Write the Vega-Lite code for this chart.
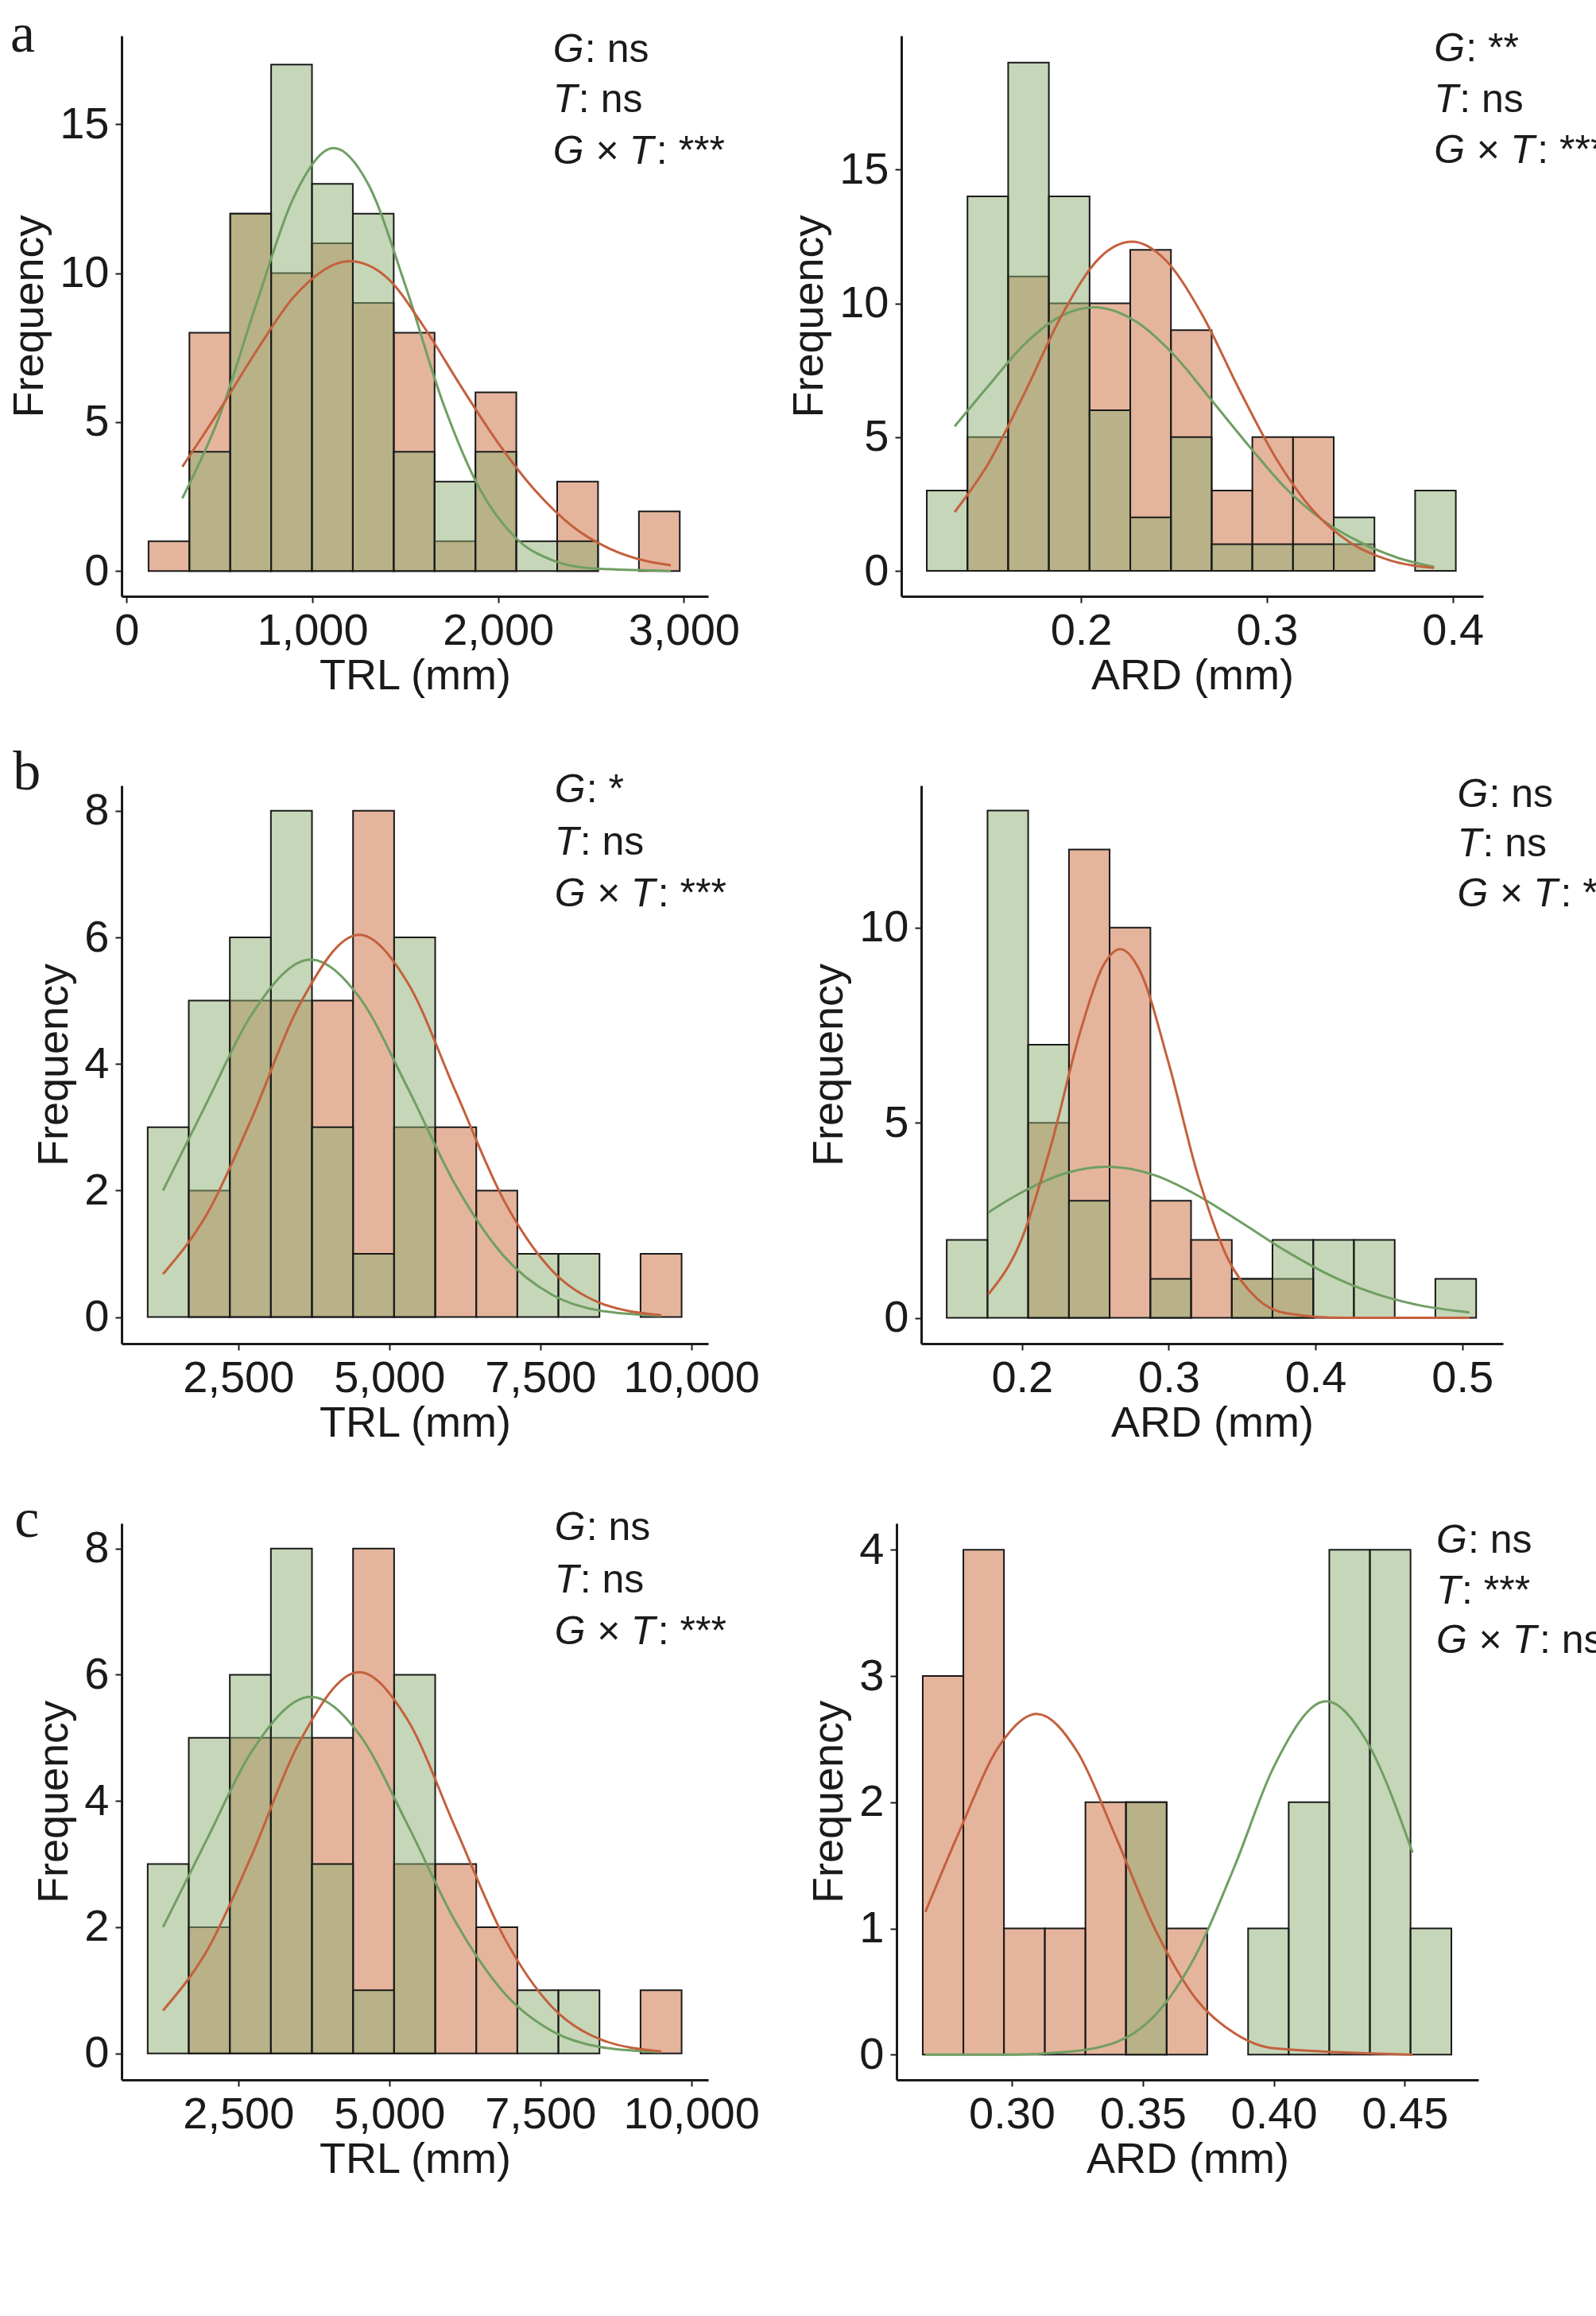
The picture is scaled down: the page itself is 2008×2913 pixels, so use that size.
{
  "$schema": "https://vega.github.io/schema/vega-lite/v6.json",
  "background": "white",
  "padding": {"left": 10, "top": 8, "right": 5, "bottom": 5},
  "config": {
    "view": {"stroke": null},
    "axis": {"grid": false, "domainColor": "#1a1a1a", "domainWidth": 3, "tickColor": "#1a1a1a", "tickWidth": 2, "tickSize": 8,
      "labelFont": "Liberation Sans", "labelFontSize": 56, "labelColor": "#1a1a1a", "labelPadding": 8,
      "titleFont": "Liberation Sans", "titleFontSize": 54, "titleFontWeight": "normal", "titleColor": "#1a1a1a"},
    "axisX": {"titlePadding": 2},
    "axisY": {"titlePadding": 10},
    "text": {"font": "Liberation Sans", "fontSize": 50, "color": "#1a1a1a", "align": "left", "baseline": "middle"},
    "line": {"interpolate": "monotone"},
    "concat": {"spacing": 60}
  },
  "datasets": {
    "bars": [
      {"p":"al","g":"r","x":118,"x1":338,"y":1},{"p":"al","g":"r","x":338,"x1":558,"y":8},{"p":"al","g":"r","x":558,"x1":778,"y":12},
      {"p":"al","g":"r","x":778,"x1":998,"y":10},{"p":"al","g":"r","x":998,"x1":1218,"y":11},{"p":"al","g":"r","x":1218,"x1":1438,"y":9},
      {"p":"al","g":"r","x":1438,"x1":1658,"y":8},{"p":"al","g":"r","x":1658,"x1":1878,"y":1},{"p":"al","g":"r","x":1878,"x1":2098,"y":6},
      {"p":"al","g":"r","x":2318,"x1":2538,"y":3},{"p":"al","g":"r","x":2758,"x1":2978,"y":2},
      {"p":"al","g":"g","x":338,"x1":558,"y":4},{"p":"al","g":"g","x":558,"x1":778,"y":12},{"p":"al","g":"g","x":778,"x1":998,"y":17},
      {"p":"al","g":"g","x":998,"x1":1218,"y":13},{"p":"al","g":"g","x":1218,"x1":1438,"y":12},{"p":"al","g":"g","x":1438,"x1":1658,"y":4},
      {"p":"al","g":"g","x":1658,"x1":1878,"y":3},{"p":"al","g":"g","x":1878,"x1":2098,"y":4},{"p":"al","g":"g","x":2098,"x1":2318,"y":1},
      {"p":"al","g":"g","x":2318,"x1":2538,"y":1},

      {"p":"ar","g":"r","x":0.1389,"x1":0.1608,"y":5},{"p":"ar","g":"r","x":0.1608,"x1":0.1827,"y":11},{"p":"ar","g":"r","x":0.1827,"x1":0.2046,"y":10},
      {"p":"ar","g":"r","x":0.2046,"x1":0.2265,"y":10},{"p":"ar","g":"r","x":0.2265,"x1":0.2484,"y":12},{"p":"ar","g":"r","x":0.2484,"x1":0.2703,"y":9},
      {"p":"ar","g":"r","x":0.2703,"x1":0.2922,"y":3},{"p":"ar","g":"r","x":0.2922,"x1":0.3141,"y":5},{"p":"ar","g":"r","x":0.3141,"x1":0.336,"y":5},
      {"p":"ar","g":"r","x":0.336,"x1":0.3579,"y":1},
      {"p":"ar","g":"g","x":0.117,"x1":0.1389,"y":3},{"p":"ar","g":"g","x":0.1389,"x1":0.1608,"y":14},{"p":"ar","g":"g","x":0.1608,"x1":0.1827,"y":19},
      {"p":"ar","g":"g","x":0.1827,"x1":0.2046,"y":14},{"p":"ar","g":"g","x":0.2046,"x1":0.2265,"y":6},{"p":"ar","g":"g","x":0.2265,"x1":0.2484,"y":2},
      {"p":"ar","g":"g","x":0.2484,"x1":0.2703,"y":5},{"p":"ar","g":"g","x":0.2703,"x1":0.2922,"y":1},{"p":"ar","g":"g","x":0.2922,"x1":0.3141,"y":1},
      {"p":"ar","g":"g","x":0.3141,"x1":0.336,"y":1},{"p":"ar","g":"g","x":0.336,"x1":0.3579,"y":2},{"p":"ar","g":"g","x":0.3798,"x1":0.4017,"y":3},

      {"p":"bl","g":"r","x":1680,"x1":2360,"y":2},{"p":"bl","g":"r","x":2360,"x1":3040,"y":5},{"p":"bl","g":"r","x":3040,"x1":3720,"y":5},
      {"p":"bl","g":"r","x":3720,"x1":4400,"y":5},{"p":"bl","g":"r","x":4400,"x1":5080,"y":8},{"p":"bl","g":"r","x":5080,"x1":5760,"y":3},
      {"p":"bl","g":"r","x":5760,"x1":6440,"y":3},{"p":"bl","g":"r","x":6440,"x1":7120,"y":2},{"p":"bl","g":"r","x":9160,"x1":9840,"y":1},
      {"p":"bl","g":"g","x":1000,"x1":1680,"y":3},{"p":"bl","g":"g","x":1680,"x1":2360,"y":5},{"p":"bl","g":"g","x":2360,"x1":3040,"y":6},
      {"p":"bl","g":"g","x":3040,"x1":3720,"y":8},{"p":"bl","g":"g","x":3720,"x1":4400,"y":3},{"p":"bl","g":"g","x":4400,"x1":5080,"y":1},
      {"p":"bl","g":"g","x":5080,"x1":5760,"y":6},{"p":"bl","g":"g","x":7120,"x1":7800,"y":1},{"p":"bl","g":"g","x":7800,"x1":8480,"y":1},

      {"p":"br","g":"r","x":0.2042,"x1":0.232,"y":5},{"p":"br","g":"r","x":0.232,"x1":0.2597,"y":12},{"p":"br","g":"r","x":0.2597,"x1":0.2875,"y":10},
      {"p":"br","g":"r","x":0.2875,"x1":0.3152,"y":3},{"p":"br","g":"r","x":0.3152,"x1":0.343,"y":2},{"p":"br","g":"r","x":0.343,"x1":0.3707,"y":1},
      {"p":"br","g":"r","x":0.3707,"x1":0.3985,"y":1},
      {"p":"br","g":"g","x":0.1487,"x1":0.1765,"y":2},{"p":"br","g":"g","x":0.1765,"x1":0.2042,"y":13},{"p":"br","g":"g","x":0.2042,"x1":0.232,"y":7},
      {"p":"br","g":"g","x":0.232,"x1":0.2597,"y":3},{"p":"br","g":"g","x":0.2875,"x1":0.3152,"y":1},{"p":"br","g":"g","x":0.343,"x1":0.3707,"y":1},
      {"p":"br","g":"g","x":0.3707,"x1":0.3985,"y":2},{"p":"br","g":"g","x":0.3985,"x1":0.4262,"y":2},{"p":"br","g":"g","x":0.4262,"x1":0.454,"y":2},
      {"p":"br","g":"g","x":0.4817,"x1":0.5095,"y":1},

      {"p":"cr","g":"r","x":0.266,"x1":0.2815,"y":3},{"p":"cr","g":"r","x":0.2815,"x1":0.297,"y":4},{"p":"cr","g":"r","x":0.297,"x1":0.3126,"y":1},
      {"p":"cr","g":"r","x":0.3126,"x1":0.3281,"y":1},{"p":"cr","g":"r","x":0.3281,"x1":0.3436,"y":2},{"p":"cr","g":"r","x":0.3436,"x1":0.3591,"y":2},
      {"p":"cr","g":"r","x":0.3591,"x1":0.3746,"y":1},
      {"p":"cr","g":"g","x":0.3436,"x1":0.3591,"y":2},{"p":"cr","g":"g","x":0.3902,"x1":0.4057,"y":1},{"p":"cr","g":"g","x":0.4057,"x1":0.4212,"y":2},
      {"p":"cr","g":"g","x":0.4212,"x1":0.4367,"y":4},{"p":"cr","g":"g","x":0.4367,"x1":0.4522,"y":4},{"p":"cr","g":"g","x":0.4522,"x1":0.4678,"y":1}
    ],
    "curves": [
      {"p":"al","g":"g","x":300,"y":2.44},{"p":"al","g":"g","x":500,"y":5.2},{"p":"al","g":"g","x":700,"y":9.0},{"p":"al","g":"g","x":900,"y":12.55},
      {"p":"al","g":"g","x":1115,"y":14.2},{"p":"al","g":"g","x":1300,"y":13.0},{"p":"al","g":"g","x":1500,"y":9.6},{"p":"al","g":"g","x":1700,"y":5.7},
      {"p":"al","g":"g","x":1900,"y":2.77},{"p":"al","g":"g","x":2100,"y":1.08},{"p":"al","g":"g","x":2300,"y":0.34},{"p":"al","g":"g","x":2500,"y":0.09},
      {"p":"al","g":"g","x":2930,"y":0.0},
      {"p":"al","g":"r","x":300,"y":3.5},{"p":"al","g":"r","x":500,"y":5.4},{"p":"al","g":"r","x":700,"y":7.4},{"p":"al","g":"r","x":900,"y":9.2},
      {"p":"al","g":"r","x":1200,"y":10.4},{"p":"al","g":"r","x":1400,"y":9.86},{"p":"al","g":"r","x":1600,"y":8.2},{"p":"al","g":"r","x":1800,"y":6.2},
      {"p":"al","g":"r","x":2000,"y":4.3},{"p":"al","g":"r","x":2200,"y":2.7},{"p":"al","g":"r","x":2400,"y":1.5},{"p":"al","g":"r","x":2600,"y":0.75},
      {"p":"al","g":"r","x":2800,"y":0.33},{"p":"al","g":"r","x":2930,"y":0.19},

      {"p":"ar","g":"g","x":0.132,"y":5.4},{"p":"ar","g":"g","x":0.15,"y":6.9},{"p":"ar","g":"g","x":0.17,"y":8.5},{"p":"ar","g":"g","x":0.19,"y":9.55},
      {"p":"ar","g":"g","x":0.207,"y":9.85},{"p":"ar","g":"g","x":0.23,"y":9.3},{"p":"ar","g":"g","x":0.25,"y":8.07},{"p":"ar","g":"g","x":0.27,"y":6.4},
      {"p":"ar","g":"g","x":0.29,"y":4.7},{"p":"ar","g":"g","x":0.31,"y":3.1},{"p":"ar","g":"g","x":0.33,"y":1.9},{"p":"ar","g":"g","x":0.35,"y":1.08},
      {"p":"ar","g":"g","x":0.37,"y":0.5},{"p":"ar","g":"g","x":0.39,"y":0.15},
      {"p":"ar","g":"r","x":0.132,"y":2.2},{"p":"ar","g":"r","x":0.15,"y":4.0},{"p":"ar","g":"r","x":0.17,"y":6.7},{"p":"ar","g":"r","x":0.19,"y":9.6},
      {"p":"ar","g":"r","x":0.21,"y":11.7},{"p":"ar","g":"r","x":0.2274,"y":12.3},{"p":"ar","g":"r","x":0.245,"y":11.65},{"p":"ar","g":"r","x":0.265,"y":9.6},
      {"p":"ar","g":"r","x":0.285,"y":6.8},{"p":"ar","g":"r","x":0.305,"y":4.2},{"p":"ar","g":"r","x":0.325,"y":2.25},{"p":"ar","g":"r","x":0.345,"y":1.05},
      {"p":"ar","g":"r","x":0.365,"y":0.42},{"p":"ar","g":"r","x":0.39,"y":0.11},

      {"p":"bl","g":"g","x":1254,"y":2.0},{"p":"bl","g":"g","x":2000,"y":3.43},{"p":"bl","g":"g","x":2700,"y":4.75},{"p":"bl","g":"g","x":3700,"y":5.65},
      {"p":"bl","g":"g","x":4500,"y":5.06},{"p":"bl","g":"g","x":5300,"y":3.63},{"p":"bl","g":"g","x":6100,"y":2.08},{"p":"bl","g":"g","x":6900,"y":0.96},
      {"p":"bl","g":"g","x":7700,"y":0.35},{"p":"bl","g":"g","x":8500,"y":0.1},{"p":"bl","g":"g","x":9500,"y":0.02},
      {"p":"bl","g":"r","x":1254,"y":0.68},{"p":"bl","g":"r","x":2000,"y":1.66},{"p":"bl","g":"r","x":2700,"y":3.09},{"p":"bl","g":"r","x":3500,"y":4.91},
      {"p":"bl","g":"r","x":4500,"y":6.04},{"p":"bl","g":"r","x":5300,"y":5.29},{"p":"bl","g":"r","x":6100,"y":3.56},{"p":"bl","g":"r","x":6900,"y":1.84},
      {"p":"bl","g":"r","x":7700,"y":0.73},{"p":"bl","g":"r","x":8500,"y":0.22},{"p":"bl","g":"r","x":9500,"y":0.03},

      {"p":"br","g":"g","x":0.177,"y":2.7},{"p":"br","g":"g","x":0.2,"y":3.22},{"p":"br","g":"g","x":0.23,"y":3.71},{"p":"br","g":"g","x":0.258,"y":3.87},
      {"p":"br","g":"g","x":0.29,"y":3.66},{"p":"br","g":"g","x":0.32,"y":3.13},{"p":"br","g":"g","x":0.35,"y":2.43},{"p":"br","g":"g","x":0.38,"y":1.71},
      {"p":"br","g":"g","x":0.41,"y":1.09},{"p":"br","g":"g","x":0.44,"y":0.63},{"p":"br","g":"g","x":0.47,"y":0.33},{"p":"br","g":"g","x":0.505,"y":0.14},
      {"p":"br","g":"r","x":0.177,"y":0.6},{"p":"br","g":"r","x":0.2,"y":2.04},{"p":"br","g":"r","x":0.22,"y":4.45},{"p":"br","g":"r","x":0.24,"y":7.37},
      {"p":"br","g":"r","x":0.255,"y":9.0},{"p":"br","g":"r","x":0.267,"y":9.45},{"p":"br","g":"r","x":0.28,"y":8.92},{"p":"br","g":"r","x":0.3,"y":6.52},
      {"p":"br","g":"r","x":0.32,"y":3.63},{"p":"br","g":"r","x":0.34,"y":1.54},{"p":"br","g":"r","x":0.36,"y":0.5},{"p":"br","g":"r","x":0.38,"y":0.12},
      {"p":"br","g":"r","x":0.42,"y":0.0},{"p":"br","g":"r","x":0.505,"y":0.0},

      {"p":"cr","g":"r","x":0.267,"y":1.13},{"p":"cr","g":"r","x":0.28,"y":1.77},{"p":"cr","g":"r","x":0.295,"y":2.44},{"p":"cr","g":"r","x":0.3095,"y":2.7},
      {"p":"cr","g":"r","x":0.325,"y":2.4},{"p":"cr","g":"r","x":0.34,"y":1.71},{"p":"cr","g":"r","x":0.355,"y":0.98},{"p":"cr","g":"r","x":0.37,"y":0.45},
      {"p":"cr","g":"r","x":0.385,"y":0.17},{"p":"cr","g":"r","x":0.4,"y":0.05},{"p":"cr","g":"r","x":0.453,"y":0.0},
      {"p":"cr","g":"g","x":0.267,"y":0.0},{"p":"cr","g":"g","x":0.3,"y":0.0},{"p":"cr","g":"g","x":0.32,"y":0.02},{"p":"cr","g":"g","x":0.34,"y":0.1},
      {"p":"cr","g":"g","x":0.355,"y":0.32},{"p":"cr","g":"g","x":0.37,"y":0.78},{"p":"cr","g":"g","x":0.385,"y":1.49},{"p":"cr","g":"g","x":0.4,"y":2.28},
      {"p":"cr","g":"g","x":0.42,"y":2.8},{"p":"cr","g":"g","x":0.435,"y":2.5},{"p":"cr","g":"g","x":0.453,"y":1.6}
    ],
    "means": [
      {"p":"al","g":"g","x":1115},{"p":"al","g":"r","x":1184},
      {"p":"ar","g":"g","x":0.2},{"p":"ar","g":"r","x":0.2274},
      {"p":"bl","g":"g","x":3600},{"p":"bl","g":"r","x":4407},
      {"p":"br","g":"g","x":0.2555},{"p":"br","g":"r","x":0.267},
      {"p":"cr","g":"r","x":0.3095},{"p":"cr","g":"g","x":0.4203}
    ],
    "notes": [
      {"p":"al","line":1,"it":"G","rest":": ns","x":2296,"y":17.5},{"p":"al","line":2,"it":"T","rest":": ns","x":2296,"y":15.8},{"p":"al","line":3,"it":"G × T","rest":": ***","x":2296,"y":14.07},
      {"p":"ar","line":1,"it":"G","rest":": **","x":0.39,"y":19.5},{"p":"ar","line":2,"it":"T","rest":": ns","x":0.39,"y":17.6},{"p":"ar","line":3,"it":"G × T","rest":": ***","x":0.39,"y":15.7},
      {"p":"bl","line":1,"it":"G","rest":": *","x":7737,"y":8.33},{"p":"bl","line":2,"it":"T","rest":": ns","x":7737,"y":7.49},{"p":"bl","line":3,"it":"G × T","rest":": ***","x":7737,"y":6.68},
      {"p":"br","line":1,"it":"G","rest":": ns","x":0.4966,"y":13.4},{"p":"br","line":2,"it":"T","rest":": ns","x":0.4966,"y":12.13},{"p":"br","line":3,"it":"G × T","rest":": ***","x":0.4966,"y":10.85},
      {"p":"cl","line":1,"it":"G","rest":": ns","x":7737,"y":8.33},{"p":"cl","line":2,"it":"T","rest":": ns","x":7737,"y":7.49},{"p":"cl","line":3,"it":"G × T","rest":": ***","x":7737,"y":6.68},
      {"p":"cr","line":1,"it":"G","rest":": ns","x":0.462,"y":4.07},{"p":"cr","line":2,"it":"T","rest":": ***","x":0.462,"y":3.67},{"p":"cr","line":3,"it":"G × T","rest":": ns","x":0.462,"y":3.28}
    ],
    "letters": [
      {"p":"al","t":"a","x":-560,"y":18.0},{"p":"bl","t":"b","x":-1000,"y":8.6},{"p":"cl","t":"c","x":-1000,"y":8.45}
    ]
  },
  "vconcat": [
    {"hconcat": [
      {"width": 738, "height": 705,
        "encoding": {
          "x": {"field": "x", "type": "quantitative", "scale": {"domain": [-27, 3131], "nice": false, "zero": false}, "axis": {"title": "TRL (mm)", "values": [0, 1000, 2000, 3000], "format": ",.0f"}},
          "y": {"field": "y", "type": "quantitative", "scale": {"domain": [-0.85, 17.97], "nice": false, "zero": false}, "axis": {"title": "Frequency", "values": [0, 5, 10, 15]}}
        },
        "layer": [
          {"data": {"name": "bars"}, "transform": [{"filter": "datum.p == 'al'"}], "mark": {"type": "rect", "fillOpacity": 0.5, "stroke": "#1a1a1a", "strokeWidth": 2},
            "encoding": {"x2": {"field": "x1"}, "y2": {"datum": 0}, "color": {"field": "g", "type": "nominal", "scale": {"domain": ["r", "g"], "range": ["#cb693b", "#8dad71"]}, "legend": null}}},
          {"data": {"name": "curves"}, "transform": [{"filter": "datum.p == 'al'"}], "mark": {"type": "line", "strokeWidth": 3},
            "encoding": {"stroke": {"field": "g", "type": "nominal", "scale": {"domain": ["r", "g"], "range": ["#c4603d", "#6f9f63"]}, "legend": null}}},
          {"data": {"name": "means"}, "transform": [{"filter": "datum.p == 'al'"}], "mark": {"type": "rule", "strokeWidth": 3, "strokeDash": [40, 22]},
            "encoding": {"y": {"datum": -0.85}, "y2": {"datum": 17.97}, "stroke": {"field": "g", "type": "nominal", "scale": {"domain": ["r", "g"], "range": ["#c4603d", "#6f9f63"]}, "legend": null}}},
          {"data": {"name": "notes"}, "transform": [{"filter": "datum.p == 'al'"}], "mark": {"type": "text", "fontStyle": "italic"}, "encoding": {"text": {"field": "it"}}},
          {"data": {"name": "notes"}, "transform": [{"filter": "datum.p == 'al' && datum.line == 1"}], "mark": {"type": "text", "dx": 40}, "encoding": {"text": {"field": "rest"}}},
          {"data": {"name": "notes"}, "transform": [{"filter": "datum.p == 'al' && datum.line == 2"}], "mark": {"type": "text", "dx": 32}, "encoding": {"text": {"field": "rest"}}},
          {"data": {"name": "notes"}, "transform": [{"filter": "datum.p == 'al' && datum.line == 3"}], "mark": {"type": "text", "dx": 130}, "encoding": {"text": {"field": "rest"}}},
          {"data": {"name": "letters"}, "transform": [{"filter": "datum.p == 'al'"}], "mark": {"type": "text", "font": "Liberation Serif", "fontSize": 70, "align": "center"}, "encoding": {"text": {"field": "t"}}}
        ]
      },
      {"width": 732, "height": 705,
        "encoding": {
          "x": {"field": "x", "type": "quantitative", "scale": {"domain": [0.1033, 0.4164], "nice": false, "zero": false}, "axis": {"title": "ARD (mm)", "values": [0.2, 0.3, 0.4], "format": ".1f"}},
          "y": {"field": "y", "type": "quantitative", "scale": {"domain": [-0.95, 20], "nice": false, "zero": false}, "axis": {"title": "Frequency", "values": [0, 5, 10, 15]}}
        },
        "layer": [
          {"data": {"name": "bars"}, "transform": [{"filter": "datum.p == 'ar'"}], "mark": {"type": "rect", "fillOpacity": 0.5, "stroke": "#1a1a1a", "strokeWidth": 2},
            "encoding": {"x2": {"field": "x1"}, "y2": {"datum": 0}, "color": {"field": "g", "type": "nominal", "scale": {"domain": ["r", "g"], "range": ["#cb693b", "#8dad71"]}, "legend": null}}},
          {"data": {"name": "curves"}, "transform": [{"filter": "datum.p == 'ar'"}], "mark": {"type": "line", "strokeWidth": 3},
            "encoding": {"stroke": {"field": "g", "type": "nominal", "scale": {"domain": ["r", "g"], "range": ["#c4603d", "#6f9f63"]}, "legend": null}}},
          {"data": {"name": "means"}, "transform": [{"filter": "datum.p == 'ar'"}], "mark": {"type": "rule", "strokeWidth": 3, "strokeDash": [40, 22]},
            "encoding": {"y": {"datum": -0.95}, "y2": {"datum": 20}, "stroke": {"field": "g", "type": "nominal", "scale": {"domain": ["r", "g"], "range": ["#c4603d", "#6f9f63"]}, "legend": null}}},
          {"data": {"name": "notes"}, "transform": [{"filter": "datum.p == 'ar'"}], "mark": {"type": "text", "fontStyle": "italic"}, "encoding": {"text": {"field": "it"}}},
          {"data": {"name": "notes"}, "transform": [{"filter": "datum.p == 'ar' && datum.line == 1"}], "mark": {"type": "text", "dx": 40}, "encoding": {"text": {"field": "rest"}}},
          {"data": {"name": "notes"}, "transform": [{"filter": "datum.p == 'ar' && datum.line == 2"}], "mark": {"type": "text", "dx": 32}, "encoding": {"text": {"field": "rest"}}},
          {"data": {"name": "notes"}, "transform": [{"filter": "datum.p == 'ar' && datum.line == 3"}], "mark": {"type": "text", "dx": 130}, "encoding": {"text": {"field": "rest"}}}
        ]
      }
    ]},
    {"hconcat": [
      {"width": 738, "height": 702,
        "encoding": {
          "x": {"field": "x", "type": "quantitative", "scale": {"domain": [568, 10280], "nice": false, "zero": false}, "axis": {"title": "TRL (mm)", "values": [2500, 5000, 7500, 10000], "format": ",.0f"}},
          "y": {"field": "y", "type": "quantitative", "scale": {"domain": [-0.42, 8.4], "nice": false, "zero": false}, "axis": {"title": "Frequency", "values": [0, 2, 4, 6, 8]}}
        },
        "layer": [
          {"data": {"name": "bars"}, "transform": [{"filter": "datum.p == 'bl'"}], "mark": {"type": "rect", "fillOpacity": 0.5, "stroke": "#1a1a1a", "strokeWidth": 2},
            "encoding": {"x2": {"field": "x1"}, "y2": {"datum": 0}, "color": {"field": "g", "type": "nominal", "scale": {"domain": ["r", "g"], "range": ["#cb693b", "#8dad71"]}, "legend": null}}},
          {"data": {"name": "curves"}, "transform": [{"filter": "datum.p == 'bl'"}], "mark": {"type": "line", "strokeWidth": 3},
            "encoding": {"stroke": {"field": "g", "type": "nominal", "scale": {"domain": ["r", "g"], "range": ["#c4603d", "#6f9f63"]}, "legend": null}}},
          {"data": {"name": "means"}, "transform": [{"filter": "datum.p == 'bl'"}], "mark": {"type": "rule", "strokeWidth": 3, "strokeDash": [40, 22]},
            "encoding": {"y": {"datum": -0.42}, "y2": {"datum": 8.4}, "stroke": {"field": "g", "type": "nominal", "scale": {"domain": ["r", "g"], "range": ["#c4603d", "#6f9f63"]}, "legend": null}}},
          {"data": {"name": "notes"}, "transform": [{"filter": "datum.p == 'bl'"}], "mark": {"type": "text", "fontStyle": "italic"}, "encoding": {"text": {"field": "it"}}},
          {"data": {"name": "notes"}, "transform": [{"filter": "datum.p == 'bl' && datum.line == 1"}], "mark": {"type": "text", "dx": 40}, "encoding": {"text": {"field": "rest"}}},
          {"data": {"name": "notes"}, "transform": [{"filter": "datum.p == 'bl' && datum.line == 2"}], "mark": {"type": "text", "dx": 32}, "encoding": {"text": {"field": "rest"}}},
          {"data": {"name": "notes"}, "transform": [{"filter": "datum.p == 'bl' && datum.line == 3"}], "mark": {"type": "text", "dx": 130}, "encoding": {"text": {"field": "rest"}}},
          {"data": {"name": "letters"}, "transform": [{"filter": "datum.p == 'bl'"}], "mark": {"type": "text", "font": "Liberation Serif", "fontSize": 70, "align": "center"}, "encoding": {"text": {"field": "t"}}}
        ]
      },
      {"width": 732, "height": 702,
        "encoding": {
          "x": {"field": "x", "type": "quantitative", "scale": {"domain": [0.1313, 0.5278], "nice": false, "zero": false}, "axis": {"title": "ARD (mm)", "values": [0.2, 0.3, 0.4, 0.5], "format": ".1f"}},
          "y": {"field": "y", "type": "quantitative", "scale": {"domain": [-0.66, 13.64], "nice": false, "zero": false}, "axis": {"title": "Frequency", "values": [0, 5, 10]}}
        },
        "layer": [
          {"data": {"name": "bars"}, "transform": [{"filter": "datum.p == 'br'"}], "mark": {"type": "rect", "fillOpacity": 0.5, "stroke": "#1a1a1a", "strokeWidth": 2},
            "encoding": {"x2": {"field": "x1"}, "y2": {"datum": 0}, "color": {"field": "g", "type": "nominal", "scale": {"domain": ["r", "g"], "range": ["#cb693b", "#8dad71"]}, "legend": null}}},
          {"data": {"name": "curves"}, "transform": [{"filter": "datum.p == 'br'"}], "mark": {"type": "line", "strokeWidth": 3},
            "encoding": {"stroke": {"field": "g", "type": "nominal", "scale": {"domain": ["r", "g"], "range": ["#c4603d", "#6f9f63"]}, "legend": null}}},
          {"data": {"name": "means"}, "transform": [{"filter": "datum.p == 'br'"}], "mark": {"type": "rule", "strokeWidth": 3, "strokeDash": [40, 22]},
            "encoding": {"y": {"datum": -0.66}, "y2": {"datum": 13.64}, "stroke": {"field": "g", "type": "nominal", "scale": {"domain": ["r", "g"], "range": ["#c4603d", "#6f9f63"]}, "legend": null}}},
          {"data": {"name": "notes"}, "transform": [{"filter": "datum.p == 'br'"}], "mark": {"type": "text", "fontStyle": "italic"}, "encoding": {"text": {"field": "it"}}},
          {"data": {"name": "notes"}, "transform": [{"filter": "datum.p == 'br' && datum.line == 1"}], "mark": {"type": "text", "dx": 40}, "encoding": {"text": {"field": "rest"}}},
          {"data": {"name": "notes"}, "transform": [{"filter": "datum.p == 'br' && datum.line == 2"}], "mark": {"type": "text", "dx": 32}, "encoding": {"text": {"field": "rest"}}},
          {"data": {"name": "notes"}, "transform": [{"filter": "datum.p == 'br' && datum.line == 3"}], "mark": {"type": "text", "dx": 130}, "encoding": {"text": {"field": "rest"}}}
        ]
      }
    ]},
    {"hconcat": [
      {"width": 738, "height": 700,
        "encoding": {
          "x": {"field": "x", "type": "quantitative", "scale": {"domain": [568, 10280], "nice": false, "zero": false}, "axis": {"title": "TRL (mm)", "values": [2500, 5000, 7500, 10000], "format": ",.0f"}},
          "y": {"field": "y", "type": "quantitative", "scale": {"domain": [-0.42, 8.4], "nice": false, "zero": false}, "axis": {"title": "Frequency", "values": [0, 2, 4, 6, 8]}}
        },
        "layer": [
          {"data": {"name": "bars"}, "transform": [{"filter": "datum.p == 'bl'"}], "mark": {"type": "rect", "fillOpacity": 0.5, "stroke": "#1a1a1a", "strokeWidth": 2},
            "encoding": {"x2": {"field": "x1"}, "y2": {"datum": 0}, "color": {"field": "g", "type": "nominal", "scale": {"domain": ["r", "g"], "range": ["#cb693b", "#8dad71"]}, "legend": null}}},
          {"data": {"name": "curves"}, "transform": [{"filter": "datum.p == 'bl'"}], "mark": {"type": "line", "strokeWidth": 3},
            "encoding": {"stroke": {"field": "g", "type": "nominal", "scale": {"domain": ["r", "g"], "range": ["#c4603d", "#6f9f63"]}, "legend": null}}},
          {"data": {"name": "means"}, "transform": [{"filter": "datum.p == 'bl'"}], "mark": {"type": "rule", "strokeWidth": 3, "strokeDash": [40, 22]},
            "encoding": {"y": {"datum": -0.42}, "y2": {"datum": 8.4}, "stroke": {"field": "g", "type": "nominal", "scale": {"domain": ["r", "g"], "range": ["#c4603d", "#6f9f63"]}, "legend": null}}},
          {"data": {"name": "notes"}, "transform": [{"filter": "datum.p == 'cl'"}], "mark": {"type": "text", "fontStyle": "italic"}, "encoding": {"text": {"field": "it"}}},
          {"data": {"name": "notes"}, "transform": [{"filter": "datum.p == 'cl' && datum.line == 1"}], "mark": {"type": "text", "dx": 40}, "encoding": {"text": {"field": "rest"}}},
          {"data": {"name": "notes"}, "transform": [{"filter": "datum.p == 'cl' && datum.line == 2"}], "mark": {"type": "text", "dx": 32}, "encoding": {"text": {"field": "rest"}}},
          {"data": {"name": "notes"}, "transform": [{"filter": "datum.p == 'cl' && datum.line == 3"}], "mark": {"type": "text", "dx": 130}, "encoding": {"text": {"field": "rest"}}},
          {"data": {"name": "letters"}, "transform": [{"filter": "datum.p == 'cl'"}], "mark": {"type": "text", "font": "Liberation Serif", "fontSize": 70, "align": "center"}, "encoding": {"text": {"field": "t"}}}
        ]
      },
      {"width": 732, "height": 700,
        "encoding": {
          "x": {"field": "x", "type": "quantitative", "scale": {"domain": [0.256, 0.4781], "nice": false, "zero": false}, "axis": {"title": "ARD (mm)", "values": [0.3, 0.35, 0.4, 0.45], "format": ".2f"}},
          "y": {"field": "y", "type": "quantitative", "scale": {"domain": [-0.2, 4.21], "nice": false, "zero": false}, "axis": {"title": "Frequency", "values": [0, 1, 2, 3, 4]}}
        },
        "layer": [
          {"data": {"name": "bars"}, "transform": [{"filter": "datum.p == 'cr'"}], "mark": {"type": "rect", "fillOpacity": 0.5, "stroke": "#1a1a1a", "strokeWidth": 2},
            "encoding": {"x2": {"field": "x1"}, "y2": {"datum": 0}, "color": {"field": "g", "type": "nominal", "scale": {"domain": ["r", "g"], "range": ["#cb693b", "#8dad71"]}, "legend": null}}},
          {"data": {"name": "curves"}, "transform": [{"filter": "datum.p == 'cr'"}], "mark": {"type": "line", "strokeWidth": 3},
            "encoding": {"stroke": {"field": "g", "type": "nominal", "scale": {"domain": ["r", "g"], "range": ["#c4603d", "#6f9f63"]}, "legend": null}}},
          {"data": {"name": "means"}, "transform": [{"filter": "datum.p == 'cr'"}], "mark": {"type": "rule", "strokeWidth": 3, "strokeDash": [40, 22]},
            "encoding": {"y": {"datum": -0.2}, "y2": {"datum": 4.21}, "stroke": {"field": "g", "type": "nominal", "scale": {"domain": ["r", "g"], "range": ["#c4603d", "#6f9f63"]}, "legend": null}}},
          {"data": {"name": "notes"}, "transform": [{"filter": "datum.p == 'cr'"}], "mark": {"type": "text", "fontStyle": "italic"}, "encoding": {"text": {"field": "it"}}},
          {"data": {"name": "notes"}, "transform": [{"filter": "datum.p == 'cr' && datum.line == 1"}], "mark": {"type": "text", "dx": 40}, "encoding": {"text": {"field": "rest"}}},
          {"data": {"name": "notes"}, "transform": [{"filter": "datum.p == 'cr' && datum.line == 2"}], "mark": {"type": "text", "dx": 32}, "encoding": {"text": {"field": "rest"}}},
          {"data": {"name": "notes"}, "transform": [{"filter": "datum.p == 'cr' && datum.line == 3"}], "mark": {"type": "text", "dx": 130}, "encoding": {"text": {"field": "rest"}}}
        ]
      }
    ]}
  ]
}
